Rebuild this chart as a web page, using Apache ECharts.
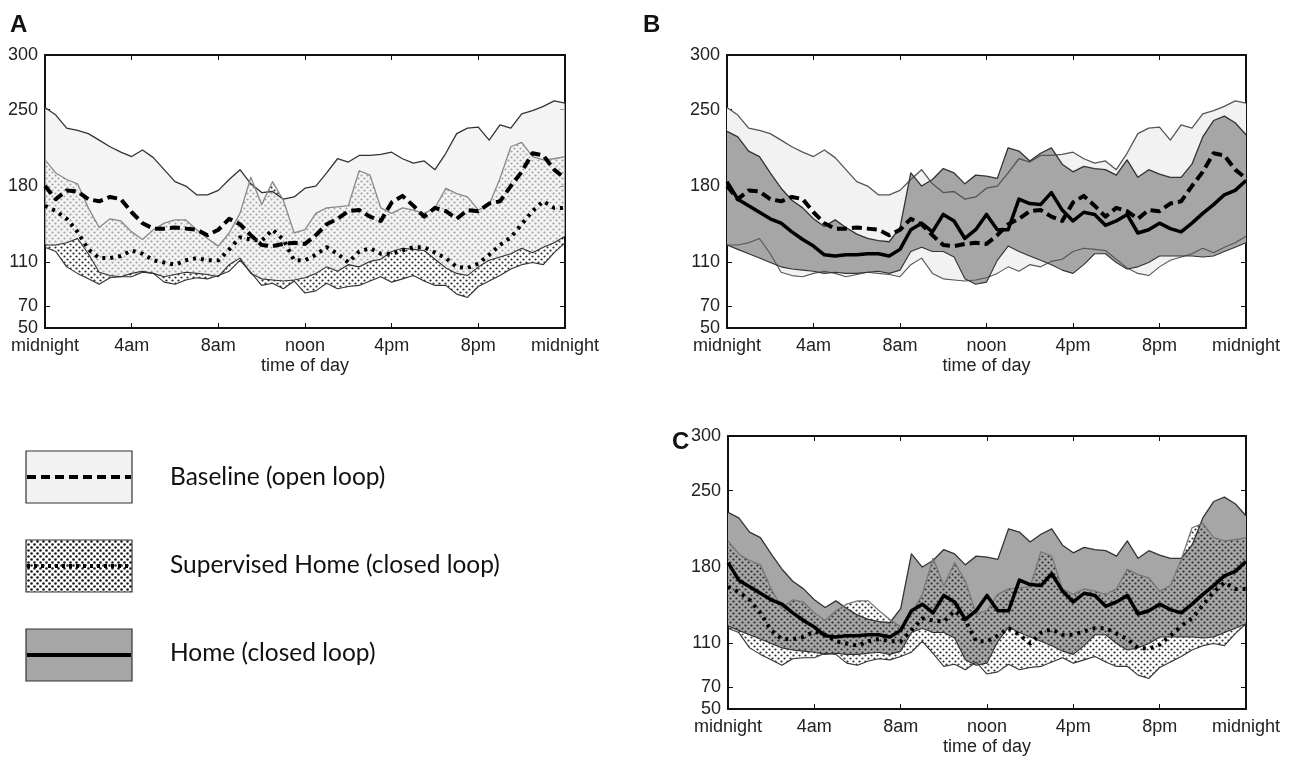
<!DOCTYPE html>
<html><head><meta charset="utf-8">
<script src="https://cdn.jsdelivr.net/npm/echarts@6/dist/echarts.min.js"></script>
<style>html,body{margin:0;padding:0;background:#fff}#c{width:1300px;height:766px}</style>
</head><body><div id="c"></div>
<script>
// time of day (hours), 30-minute steps
const hours = [0,0.5,1,1.5,2,2.5,3,3.5,4,4.5,5,5.5,6,6.5,7,7.5,8,8.5,9,9.5,10,10.5,11,11.5,12,12.5,13,13.5,14,14.5,15,15.5,16,16.5,17,17.5,18,18.5,19,19.5,20,20.5,21,21.5,22,22.5,23,23.5,24];
const xTickLabels = ['midnight','4am','8am','noon','4pm','8pm','midnight'];
const yTickValues = [50,70,110,180,250,300];
const panelLabels = ['A','B','C'];
const legendLabels = ['Baseline (open loop)','Supervised Home (closed loop)','Home (closed loop)'];

// Baseline (open loop)
const baselineUpper  = [252,245,233,231,228,222,216,211,207,213,206,195,184,180,172,172,176,186,195,182,174,175,168,170,178,180,192,205,202,208,208,209,211,205,201,203,195,210,228,233,234,222,236,233,246,249,253,258,256];
const baselineMedian = [180,168,176,175,168,166,170,168,156,146,141,141,142,141,140,135,140,150,145,135,126,125,127,128,127,135,145,150,157,158,152,148,165,171,162,152,160,157,150,158,157,164,166,180,193,210,208,195,187];
const baselineLower  = [126,126,128,132,118,101,98,97,100,102,100,97,99,101,100,99,97,108,114,100,95,94,93,94,96,100,106,102,108,106,111,113,120,123,122,121,113,105,100,98,106,112,115,118,123,119,124,128,134];
// Supervised Home (closed loop)
const supervisedUpper  = [204,192,186,182,160,142,150,148,138,131,140,146,149,149,140,132,125,137,155,188,163,184,167,137,140,155,160,161,162,194,190,160,155,160,158,155,160,178,173,170,158,163,187,216,220,207,204,205,207];
const supervisedMedian = [162,157,150,138,122,114,114,116,121,118,112,110,108,112,114,112,112,122,133,131,130,140,131,112,112,117,124,118,110,120,123,118,118,121,124,124,119,114,106,105,109,117,126,133,145,157,166,160,160];
const supervisedLower  = [124,120,106,100,95,90,96,97,97,101,100,92,90,94,96,95,98,102,112,101,89,91,86,93,82,84,91,86,88,89,93,97,92,95,98,93,89,89,81,78,88,93,98,104,108,110,108,119,128];
// Home (closed loop)
const homeUpper  = [230,225,212,207,192,178,167,160,150,143,149,142,136,132,130,129,142,192,180,186,196,192,182,190,189,187,215,212,203,210,215,200,193,198,196,195,190,204,188,195,191,188,188,200,225,240,244,238,227];
const homeMedian = [184,168,162,156,150,146,138,131,125,117,116,117,117,118,118,116,122,140,146,138,154,148,132,140,154,140,140,168,164,163,174,158,148,156,154,144,148,154,137,140,146,141,138,146,155,163,172,176,185];
const homeLower  = [126,122,118,114,110,106,104,103,102,100,101,100,100,101,102,100,103,120,124,120,120,115,95,90,92,112,125,120,116,112,108,103,100,108,118,118,110,104,106,110,116,116,116,116,115,116,120,124,128];

const FONT = '"Liberation Sans", Arial, sans-serif';
const LFONT = '24.5px Lato, "Open Sans", sans-serif';
const BASE_FILL = '#f2f2f2';
const BASE_FILL_OVER = 'rgba(238,238,238,0.62)';
const HOME_FILL = '#a6a6a6';

function makeDots(r, col){
  const c = document.createElement('canvas');
  c.width = 6; c.height = 6;
  const g = c.getContext('2d');
  g.fillStyle = col;
  [[1.5,1.5],[4.5,4.5]].forEach(p=>{ g.beginPath(); g.arc(p[0],p[1],r,0,Math.PI*2); g.fill(); });
  return c;
}
const dotPattern = {image: makeDots(1.1, '#2a2a2a'), repeat: 'repeat'};
const legendDots = {image: makeDots(1.3, '#1a1a1a'), repeat: 'repeat'};

const grids = [
  {left:45, top:55, width:520, height:273},
  {left:727, top:55, width:519, height:273},
  {left:728, top:436, width:518, height:273}
];

const cats = hours.map(String);
const labelEvery = 8; // one label every 4 hours
const xAxes = [], yAxes = [];
grids.forEach((g,i)=>{
  const axLine = {show:true, onZero:false, lineStyle:{color:'#111', width:2}};
  const tick = {show:true, inside:true, length:5, interval:labelEvery-1, lineStyle:{color:'#111', width:1}};
  xAxes.push({gridIndex:i, type:'category', data:cats, boundaryGap:false, position:'bottom',
    axisLine:axLine, axisTick:tick, splitLine:{show:false},
    axisLabel:{interval:labelEvery-1, formatter:(v,idx)=>xTickLabels[Math.round(idx/labelEvery)], fontSize:18, color:'#222', fontFamily:FONT, margin:9},
    name:'time of day', nameLocation:'middle', nameGap:29, nameTextStyle:{fontSize:18, color:'#222', fontFamily:FONT}});
  xAxes.push({gridIndex:i, type:'category', data:cats, boundaryGap:false, position:'top',
    axisLine:axLine, axisTick:tick, splitLine:{show:false}, axisLabel:{show:false}});
  const ytick = {show:true, inside:true, length:5, customValues:yTickValues, lineStyle:{color:'#111', width:1}};
  yAxes.push({gridIndex:i, type:'value', min:50, max:300, position:'left',
    axisLine:axLine, axisTick:ytick, splitLine:{show:false},
    axisLabel:{customValues:yTickValues, fontSize:18, color:'#222', fontFamily:FONT, margin:7}});
  yAxes.push({gridIndex:i, type:'value', min:50, max:300, position:'right',
    axisLine:axLine, axisTick:ytick, splitLine:{show:false},
    axisLabel:{show:false}});
});

const diff = (lo,up) => up.map((u,i)=>u-lo[i]);

function band(gi, lo, up, fill, key){
  const base = {type:'line', xAxisIndex:2*gi, yAxisIndex:2*gi, symbol:'none', silent:true, stack:key+gi,
    lineStyle:{width:0, opacity:0}};
  return [
    Object.assign({}, base, {data:lo.slice()}),
    Object.assign({}, base, {data:diff(lo,up), areaStyle:{color:fill, opacity:1}})
  ];
}
function line(gi, arr, color, width, type){
  return {type:'line', xAxisIndex:2*gi, yAxisIndex:2*gi, symbol:'none', silent:true, data:arr.slice(),
    lineStyle:{color:color, width:width, type:type||'solid', cap:'butt', join:'round'}};
}
const DASH = [10,5];
const DOT = [3,5];

const series = [].concat(
  // Panel A: supervised home dots, veiled by the baseline band
  band(0, supervisedLower, supervisedUpper, dotPattern, 'sup'),
  band(0, baselineLower, baselineUpper, BASE_FILL_OVER, 'base'),
  [line(0, baselineUpper, '#333', 1.3), line(0, baselineLower, '#333', 1.1),
   line(0, supervisedUpper, '#888', 1.3), line(0, supervisedLower, '#333', 1.1),
   line(0, supervisedMedian, '#000', 4, DOT), line(0, baselineMedian, '#000', 4, DASH)],
  // Panel B: baseline vs home
  band(1, baselineLower, baselineUpper, BASE_FILL, 'base'),
  band(1, homeLower, homeUpper, HOME_FILL, 'home'),
  [line(1, baselineUpper, '#555', 1.3), line(1, baselineLower, '#555', 1.1),
   line(1, homeUpper, '#333', 1.3), line(1, homeLower, '#333', 1.1),
   line(1, baselineMedian, '#000', 4, DASH), line(1, homeMedian, '#000', 3.5)],
  // Panel C: supervised home vs home
  band(2, homeLower, homeUpper, HOME_FILL, 'home'),
  band(2, supervisedLower, supervisedUpper, dotPattern, 'sup'),
  [line(2, homeUpper, '#333', 1.3), line(2, homeLower, '#333', 1.1),
   line(2, supervisedUpper, '#777', 1.3), line(2, supervisedLower, '#333', 1.1),
   line(2, supervisedMedian, '#000', 4, DOT), line(2, homeMedian, '#000', 3.5)]
);

const graphic = [
  {type:'text', left:10, top:13, style:{text:panelLabels[0], font:'bold 24px '+FONT, fill:'#111'}},
  {type:'text', left:643, top:13, style:{text:panelLabels[1], font:'bold 24px '+FONT, fill:'#111'}},
  {type:'text', left:672, top:430, style:{text:panelLabels[2], font:'bold 24px '+FONT, fill:'#111'}},
  // legend
  {type:'rect', shape:{x:26,y:451,width:106,height:52}, style:{fill:BASE_FILL, stroke:'#333', lineWidth:1.2}},
  {type:'line', shape:{x1:27,y1:477,x2:131,y2:477}, style:{stroke:'#000', lineWidth:4, lineDash:[9,5]}},
  {type:'rect', shape:{x:26,y:540,width:106,height:52}, style:{fill:legendDots, stroke:'#333', lineWidth:1.2}},
  {type:'line', shape:{x1:27,y1:566,x2:131,y2:566}, style:{stroke:'#000', lineWidth:4, lineDash:[3,4]}},
  {type:'rect', shape:{x:26,y:629,width:106,height:52}, style:{fill:HOME_FILL, stroke:'#333', lineWidth:1.2}},
  {type:'line', shape:{x1:27,y1:655,x2:131,y2:655}, style:{stroke:'#000', lineWidth:4}},
  {type:'text', left:170, top:465, style:{text:legendLabels[0], font:LFONT, fill:'#111'}},
  {type:'text', left:170, top:553, style:{text:legendLabels[1], font:LFONT, fill:'#111'}},
  {type:'text', left:170, top:641, style:{text:legendLabels[2], font:LFONT, fill:'#111'}}
];

const chart = echarts.init(document.getElementById('c'), null, {renderer:'canvas'});
chart.setOption({animation:false, backgroundColor:'#fff', grid:grids, xAxis:xAxes, yAxis:yAxes, series:series, graphic:graphic});
</script></body></html>
